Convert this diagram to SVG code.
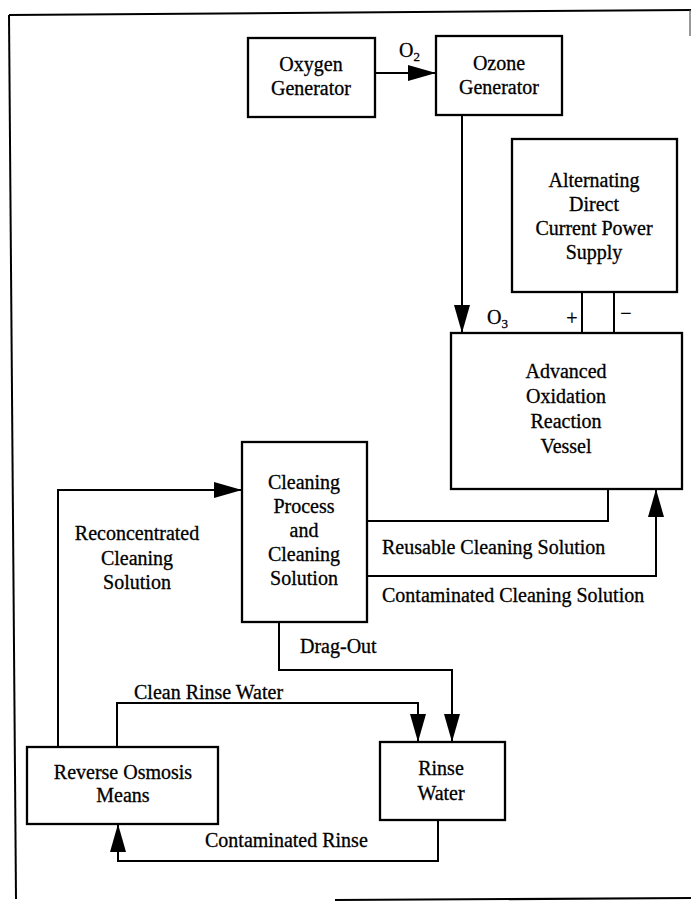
<svg xmlns="http://www.w3.org/2000/svg" width="691" height="902" viewBox="0 0 691 902">
<style>
.box{fill:#fff;stroke:#000;stroke-width:2.3}
.ln{fill:none;stroke:#000;stroke-width:2}
.t{font-family:"Liberation Serif","Times New Roman",serif;font-size:20px;fill:#000;stroke:#000;stroke-width:0.3}
.c{text-anchor:middle}
</style>
<defs>
<marker id="ah" markerUnits="userSpaceOnUse" markerWidth="29" markerHeight="17" refX="28" refY="8" orient="auto">
<path d="M0,0 L28,8 L0,16 z" fill="#000"/>
</marker>
</defs>
<rect width="691" height="902" fill="#fff"/>
<g id="frame" class="ln">
<path d="M9,15 L691,10"/>
<path d="M9,15 L16,899"/>
<path d="M335,900 L691,898" stroke-width="2.2"/>
<path d="M690,10 V36" stroke-width="1.2" stroke="#555"/>
</g>
<g id="connectors">
<path class="ln" d="M375,73 H436" marker-end="url(#ah)"/>
<path class="ln" d="M462,115 V333" marker-end="url(#ah)"/>
<path class="ln" d="M582,292 V333"/>
<path class="ln" d="M614,292 V333"/>
<path class="ln" d="M367,521 H608 V489"/>
<path class="ln" d="M367,576 H656 V489" marker-end="url(#ah)"/>
<path class="ln" d="M58,747 V490 H242" marker-end="url(#ah)"/>
<path class="ln" d="M279,622 V670 H452 V742" marker-end="url(#ah)"/>
<path class="ln" d="M117,747 V703 H418 V742" marker-end="url(#ah)"/>
<path class="ln" d="M438,820 V861 H118 V824" marker-end="url(#ah)"/>
<text class="t" x="399" y="57">O<tspan font-size="13" dy="4">2</tspan></text>
<text class="t" x="487" y="324">O<tspan font-size="13" dy="4">3</tspan></text>
<text class="t c" x="572" y="325">+</text>
<text class="t c" x="626" y="320">−</text>
<text class="t" x="382" y="554">Reusable Cleaning Solution</text>
<text class="t" x="382" y="602">Contaminated Cleaning Solution</text>
<text class="t c" x="137" y="540">Reconcentrated</text>
<text class="t c" x="137" y="565">Cleaning</text>
<text class="t c" x="137" y="589">Solution</text>
<text class="t" x="300" y="653">Drag-Out</text>
<text class="t" x="134" y="699">Clean Rinse Water</text>
<text class="t" x="205" y="847">Contaminated Rinse</text>
</g>
<g id="oxygen-generator">
<rect class="box" x="248" y="38" width="127" height="79"/>
<text class="t c" x="311" y="71">Oxygen</text>
<text class="t c" x="311" y="95">Generator</text>
</g>
<g id="ozone-generator">
<rect class="box" x="436" y="36" width="126" height="79"/>
<text class="t c" x="499" y="70">Ozone</text>
<text class="t c" x="499" y="94">Generator</text>
</g>
<g id="power-supply">
<rect class="box" x="512" y="139" width="165" height="153"/>
<text class="t c" x="594" y="187">Alternating</text>
<text class="t c" x="594" y="211">Direct</text>
<text class="t c" x="594" y="235">Current Power</text>
<text class="t c" x="594" y="259">Supply</text>
</g>
<g id="reaction-vessel">
<rect class="box" x="451" y="333" width="231" height="156"/>
<text class="t c" x="566" y="378">Advanced</text>
<text class="t c" x="566" y="403">Oxidation</text>
<text class="t c" x="566" y="428">Reaction</text>
<text class="t c" x="566" y="453">Vessel</text>
</g>
<g id="cleaning-process">
<rect class="box" x="242" y="442" width="125" height="180"/>
<text class="t c" x="304" y="489">Cleaning</text>
<text class="t c" x="304" y="513">Process</text>
<text class="t c" x="304" y="537">and</text>
<text class="t c" x="304" y="561">Cleaning</text>
<text class="t c" x="304" y="585">Solution</text>
</g>
<g id="reverse-osmosis">
<rect class="box" x="27" y="747" width="191" height="77"/>
<text class="t c" x="123" y="779">Reverse Osmosis</text>
<text class="t c" x="123" y="802">Means</text>
</g>
<g id="rinse-water">
<rect class="box" x="380" y="742" width="125" height="78"/>
<text class="t c" x="441" y="775">Rinse</text>
<text class="t c" x="441" y="800">Water</text>
</g>
</svg>
